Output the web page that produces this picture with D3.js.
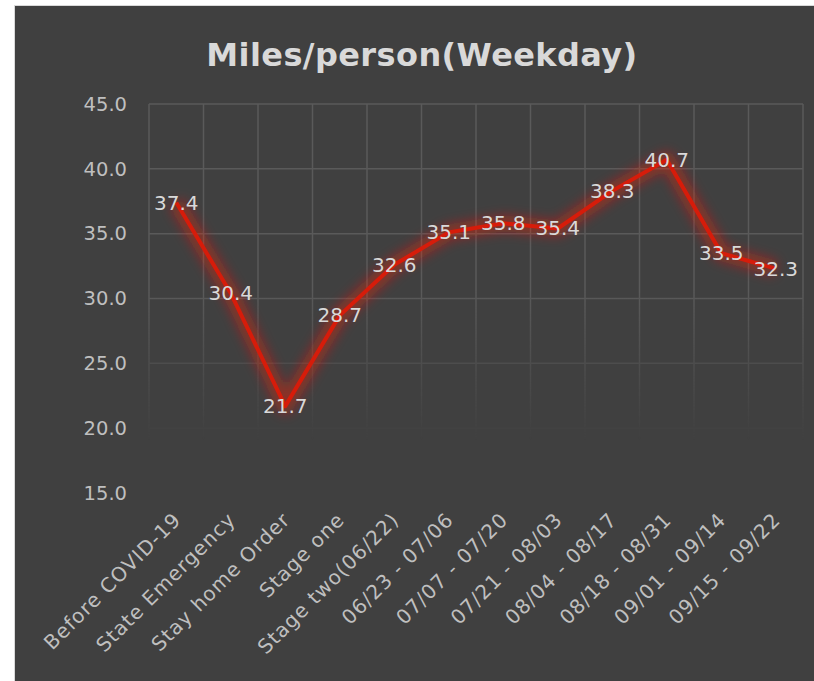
<!DOCTYPE html>
<html>
<head>
<meta charset="utf-8">
<script src="https://cdn.jsdelivr.net/npm/d3@7"></script>
<style>
  body { margin: 0; background: #fff; }
  svg { display: block; }
</style>
</head>
<body>
<script>
// Data
const categories = ['Before COVID-19', 'State Emergency', 'Stay home Order', 'Stage one', 'Stage two(06/22)',
  '06/23 - 07/06', '07/07 - 07/20', '07/21 - 08/03', '08/04 - 08/17', '08/18 - 08/31', '09/01 - 09/14', '09/15 - 09/22']
const values = [37.4, 30.4, 21.7, 28.7, 32.6, 35.1, 35.8, 35.4, 38.3, 40.7, 33.5, 32.3]
const yTicks = [15, 20, 25, 30, 35, 40, 45]
const title = 'Miles/person(Weekday)'

// Layout
const W = 814, H = 681
const plot = { left: 149, right: 803, top: 104, bottom: 493 }
const font = "'Century Gothic', 'DejaVu Sans', sans-serif"

const svg = d3.select('body').append('svg')
  .attr('width', W).attr('height', H)

const defs = svg.append('defs')
const glow = defs.append('filter').attr('id', 'glow')
  .attr('x', '-20%').attr('y', '-20%').attr('width', '140%').attr('height', '140%')
glow.append('feGaussianBlur').attr('in', 'SourceGraphic').attr('stdDeviation', 6)

// grid fades out toward the bottom
const fade = defs.append('linearGradient').attr('id', 'fade')
  .attr('gradientUnits', 'userSpaceOnUse')
  .attr('x1', 0).attr('x2', 0).attr('y1', 290).attr('y2', 440)
fade.append('stop').attr('offset', 0).attr('stop-color', '#fff')
fade.append('stop').attr('offset', 1).attr('stop-color', '#000')
defs.append('mask').attr('id', 'gridMask')
  .attr('maskUnits', 'userSpaceOnUse').attr('x', 0).attr('y', 0).attr('width', W).attr('height', H)
  .append('rect').attr('width', W).attr('height', H).attr('fill', 'url(#fade)')

// Chart area
svg.append('rect')
  .attr('x', 14.5).attr('y', 5.5)
  .attr('width', W).attr('height', H)
  .attr('fill', '#404040')
  .attr('stroke', '#d9d9d9')

// Scales
const x = d3.scaleBand().domain(categories).range([plot.left, plot.right])
const y = d3.scaleLinear().domain([15, 45]).range([plot.bottom, plot.top])

// Gridlines
const grid = svg.append('g').attr('mask', 'url(#gridMask)')
grid.selectAll('.hgrid')
  .data(yTicks)
  .enter()
  .append('line')
  .attr('x1', plot.left).attr('x2', plot.right)
  .attr('y1', d => y(d)).attr('y2', d => y(d))
  .attr('stroke', '#5a5a5a').attr('stroke-width', 1.5)

grid.selectAll('.vgrid')
  .data(categories.concat(['end']))
  .enter()
  .append('line')
  .attr('x1', (d, i) => i < categories.length ? x(d) : plot.right)
  .attr('x2', (d, i) => i < categories.length ? x(d) : plot.right)
  .attr('y1', plot.top).attr('y2', plot.bottom)
  .attr('stroke', '#5a5a5a').attr('stroke-width', 1.5)

// Y axis labels
const yAxis = d3.axisLeft(y).tickValues(yTicks).tickFormat(d3.format('.1f')).tickSize(0).tickPadding(22)
svg.append('g')
  .attr('transform', `translate(${plot.left}, 0)`)
  .call(yAxis)
  .call(g => g.select('.domain').remove())
  .selectAll('text')
  .attr('fill', '#bfbfbf')
  .style('font-family', font)
  .style('font-size', '19.5px')

// X axis labels
svg.append('g')
  .selectAll('text')
  .data(categories)
  .enter()
  .append('text')
  .attr('transform', d => `translate(${x(d) + x.bandwidth() / 2 + 6}, 521) rotate(-45)`)
  .attr('text-anchor', 'end')
  .attr('fill', '#bfbfbf')
  .style('font-family', font)
  .style('font-size', '20px')
  .style('letter-spacing', '1px')
  .text(d => d)

// Line
const line = d3.line()
  .x((d, i) => x(categories[i]) + x.bandwidth() / 2)
  .y(d => y(d))

svg.append('path')
  .datum(values)
  .attr('d', line)
  .attr('fill', 'none')
  .attr('stroke', '#ff1a00')
  .attr('stroke-width', 16)
  .attr('stroke-opacity', 0.4)
  .attr('stroke-linejoin', 'round')
  .attr('filter', 'url(#glow)')

svg.append('path')
  .datum(values)
  .attr('d', line)
  .attr('fill', 'none')
  .attr('stroke', '#d61c0a')
  .attr('stroke-width', 4)
  .attr('stroke-linejoin', 'round')

// Data labels
svg.append('g')
  .selectAll('text')
  .data(values)
  .enter()
  .append('text')
  .attr('x', (d, i) => x(categories[i]) + x.bandwidth() / 2)
  .attr('y', d => y(d))
  .attr('dy', '0.35em')
  .attr('text-anchor', 'middle')
  .attr('fill', '#d9d9d9')
  .style('font-family', font)
  .style('font-size', '20px')
  .text(d => d.toFixed(1))

// Title
svg.append('text')
  .attr('x', 422)
  .attr('y', 66)
  .attr('text-anchor', 'middle')
  .attr('fill', '#d9d9d9')
  .style('font-family', font)
  .style('font-size', '32px')
  .style('font-weight', 'bold')
  .style('letter-spacing', '0.4px')
  .text(title)
</script>
</body>
</html>
